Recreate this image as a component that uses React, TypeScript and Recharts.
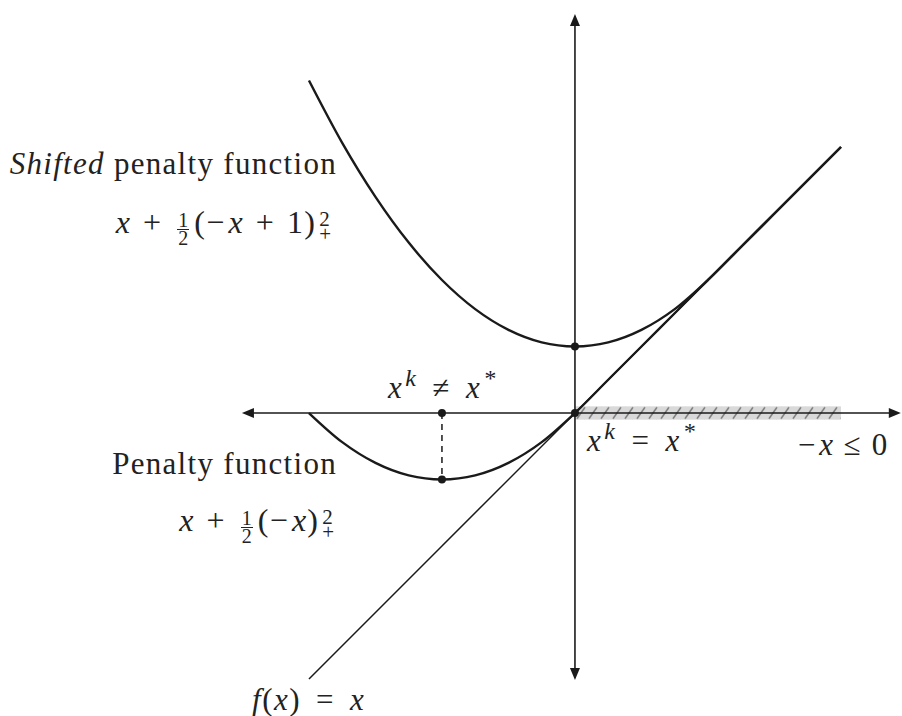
import React from 'react';
import {
  ComposedChart,
  Line,
  XAxis,
  YAxis,
  ReferenceLine,
  ReferenceArea,
  ReferenceDot,
} from 'recharts';

const xValues = [-2, -1.75, -1.5, -1.25, -1, -0.75, -0.5, -0.25, 0, 0.25, 0.5, 0.75, 1, 1.25, 1.5, 1.75, 2];
const penaltyValues = [0, -0.219, -0.375, -0.469, -0.5, -0.469, -0.375, -0.219, 0, 0.25, 0.5, 0.75, 1, 1.25, 1.5, 1.75, 2];
const shiftedValues = [2.5, 2.031, 1.625, 1.281, 1, 0.781, 0.625, 0.531, 0.5, 0.531, 0.625, 0.781, 1, 1.25, 1.5, 1.75, 2];

// f(x) = x
const identityX = [-2, 2];
const identityValues = [-2, 2];

// marked points: shifted minimum, x^k = x^*, x^k != x^* and the penalty minimum
const markedX = [0, 0, -1, -1];
const markedY = [0.5, 0, 0, -0.5];

// feasible set -x <= 0 drawn on the axis
const feasibleFrom = 0;
const feasibleTo = 2;

const W = 902;
const H = 716;
const X_MIN = -4.323;
const X_MAX = 2.459;
const Y_MIN = -2.278;
const Y_MAX = 3.105;

const INK = '#1a1a1a';
const TEXT = '#222';

const penaltyData = xValues.map((x, i) => ({ x, y: penaltyValues[i] }));
const shiftedData = xValues.map((x, i) => ({ x, y: shiftedValues[i] }));
const identityData = identityX.map((x, i) => ({ x, y: identityValues[i] }));

const Arrow = ({ cx, cy, dir }: any) => {
  const L = 12;
  const hw = 5;
  let pts = '';
  if (dir === 'up') pts = `${cx},${cy} ${cx - hw},${cy + L} ${cx + hw},${cy + L}`;
  if (dir === 'down') pts = `${cx},${cy} ${cx - hw},${cy - L} ${cx + hw},${cy - L}`;
  if (dir === 'left') pts = `${cx},${cy} ${cx + L},${cy - hw} ${cx + L},${cy + hw}`;
  if (dir === 'right') pts = `${cx},${cy} ${cx - L},${cy - hw} ${cx - L},${cy + hw}`;
  return <polygon points={pts} fill={INK} />;
};

const Hatch = (p: any) => {
  const { x, y, width, height } = p;
  return (
    <g>
      <defs>
        <pattern id="hatch" x={x} y={y} width={12} height={height} patternUnits="userSpaceOnUse">
          <path d={`M2 ${height - 1} L10 1`} stroke="#7a7a7a" strokeWidth={1.5} />
        </pattern>
      </defs>
      <rect x={x} y={y} width={width} height={height} fill="#d9d9d9" />
      <rect x={x} y={y} width={width} height={height} fill="url(#hatch)" />
    </g>
  );
};

const font = '"Liberation Serif", "Times New Roman", Tinos, "DejaVu Serif", "Noto Serif", serif';

// places a line of text by its baseline
const Tex = ({ left, right, base, size = 31, spacing = 1.3, children }: any) => {
  const style: React.CSSProperties = {
    position: 'absolute',
    top: base - 30.5,
    fontFamily: font,
    fontSize: size,
    lineHeight: '40px',
    color: TEXT,
    whiteSpace: 'nowrap',
    letterSpacing: spacing,
  };
  if (left !== undefined) style.left = left;
  if (right !== undefined) style.right = W - right;
  return <div style={style}>{children}</div>;
};

const Op = ({ m = 10, children }: any) => <span style={{ margin: `0 ${m}px` }}>{children}</span>;

const Frac = ({ n, d }: any) => (
  <span
    style={{
      display: 'inline-block',
      fontSize: 20,
      lineHeight: '17px',
      verticalAlign: -12,
      textAlign: 'center',
      margin: '0 5px 0 3px',
      letterSpacing: 0,
    }}
  >
    <span style={{ display: 'block', padding: '0 1px' }}>{n}</span>
    <span style={{ display: 'block', borderTop: `1.3px solid ${TEXT}`, padding: '0 1px' }}>{d}</span>
  </span>
);

const SupSub = ({ sup, sub }: any) => (
  <span
    style={{
      display: 'inline-block',
      fontSize: 21,
      lineHeight: '15px',
      verticalAlign: -8,
      marginLeft: 3,
      letterSpacing: 0,
    }}
  >
    <span style={{ display: 'block' }}>{sup}</span>
    <span style={{ display: 'block' }}>{sub}</span>
  </span>
);

const Sup = ({ children }: any) => (
  <span style={{ fontSize: 24, verticalAlign: 12, lineHeight: 0, fontStyle: 'italic', marginLeft: 2 }}>{children}</span>
);

const I = ({ children }: any) => <i>{children}</i>;

const dotShape = (p: any) => <circle cx={p.cx} cy={p.cy} r={4} fill={INK} />;

export default function App() {
  return (
    <div style={{ position: 'absolute', left: 0, top: 0, width: W, height: H, background: '#fff' }}>
      <ComposedChart width={W} height={H} margin={{ top: 0, right: 0, bottom: 0, left: 0 }}>
        <XAxis type="number" dataKey="x" domain={[X_MIN, X_MAX]} allowDataOverflow hide />
        <YAxis type="number" dataKey="y" domain={[Y_MIN, Y_MAX]} allowDataOverflow hide />
        <ReferenceArea x1={feasibleFrom} x2={feasibleTo} y1={-0.05} y2={0.05} shape={Hatch} />
        <ReferenceLine segment={[{ x: -2.48, y: 0 }, { x: 2.43, y: 0 }]} stroke={INK} strokeWidth={1.6} />
        <ReferenceLine segment={[{ x: 0, y: -1.99 }, { x: 0, y: 2.98 }]} stroke={INK} strokeWidth={1.6} />
        <ReferenceDot x={0} y={3.0} r={0} shape={(p: any) => <Arrow {...p} dir="up" />} />
        <ReferenceDot x={0} y={-2.008} r={0} shape={(p: any) => <Arrow {...p} dir="down" />} />
        <ReferenceDot x={-2.504} y={0} r={0} shape={(p: any) => <Arrow {...p} dir="left" />} />
        <ReferenceDot x={2.45} y={0} r={0} shape={(p: any) => <Arrow {...p} dir="right" />} />
        <ReferenceLine
          segment={[{ x: markedX[2], y: markedY[2] }, { x: markedX[3], y: markedY[3] }]}
          stroke={INK}
          strokeWidth={1.5}
          strokeDasharray="6 5"
        />
        <Line data={identityData} dataKey="y" type="linear" stroke={INK} strokeWidth={1.5} dot={false} activeDot={false} isAnimationActive={false} />
        <Line data={penaltyData} dataKey="y" type="monotone" stroke={INK} strokeWidth={2.4} dot={false} activeDot={false} isAnimationActive={false} />
        <Line data={shiftedData} dataKey="y" type="monotone" stroke={INK} strokeWidth={2.4} dot={false} activeDot={false} isAnimationActive={false} />
        {markedX.map((x, i) => (
          <ReferenceDot key={i} x={x} y={markedY[i]} r={4} shape={dotShape} />
        ))}
      </ComposedChart>

      <Tex right={337} base={174}>
        <I>Shifted</I> penalty function
      </Tex>
      <Tex right={331} base={232} size={32} spacing={1.2}>
        <I>x</I><Op m={12}>+</Op><Frac n="1" d="2" />(<span style={{ marginRight: 3 }}>−</span><I>x</I><Op m={12}>+</Op>1)<SupSub sup="2" sub="+" />
      </Tex>
      <Tex left={388} base={398} spacing={1.5}>
        <I>x</I><Sup>k</Sup><Op m={15}>≠</Op><I>x</I><Sup>*</Sup>
      </Tex>
      <Tex right={337} base={474}>
        Penalty function
      </Tex>
      <Tex right={334} base={530} size={32} spacing={1.2}>
        <I>x</I><Op m={12}>+</Op><Frac n="1" d="2" />(<span style={{ marginRight: 3 }}>−</span><I>x</I>)<SupSub sup="2" sub="+" />
      </Tex>
      <Tex left={587} base={451} spacing={1.5}>
        <I>x</I><Sup>k</Sup><Op m={15}>=</Op><I>x</I><Sup>*</Sup>
      </Tex>
      <Tex right={888} base={455} spacing={0.8}>
        <span style={{ marginRight: 3 }}>−</span><I>x</I><Op m={10}>≤</Op>0
      </Tex>
      <Tex left={252} base={710} spacing={1.5}>
        <I>f</I>(<I>x</I>)<Op m={15}>=</Op><I>x</I>
      </Tex>
    </div>
  );
}
